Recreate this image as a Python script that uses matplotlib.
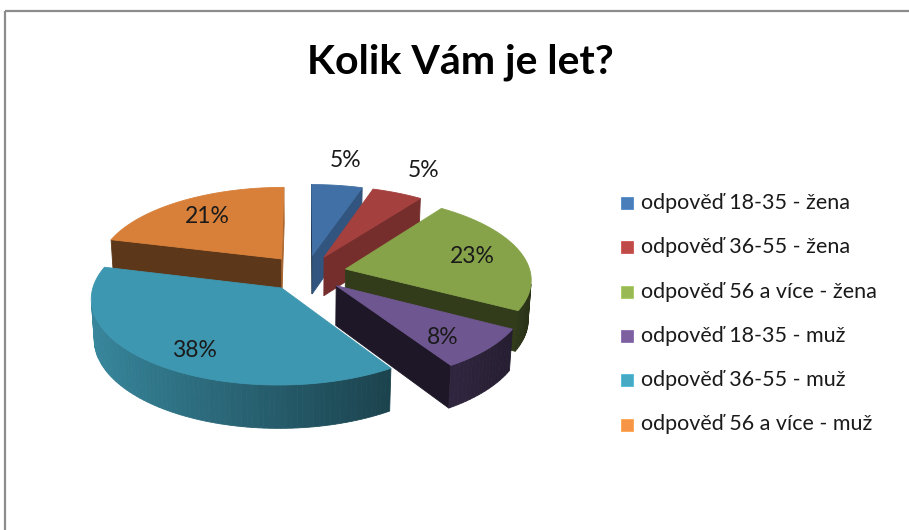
import numpy as np
import matplotlib
matplotlib.use('Agg')
import matplotlib.pyplot as plt
from matplotlib.patches import Polygon, Rectangle
from matplotlib.colors import to_rgb

# ---------------- data ----------------
title = 'Kolik Vám je let?'
categories = ['odpověď 18-35 - žena', 'odpověď 36-55 - žena', 'odpověď 56 a více - žena',
              'odpověď 18-35 - muž', 'odpověď 36-55 - muž', 'odpověď 56 a více - muž']
values = [5, 5, 23, 8, 38, 21]
value_labels = ['5%', '5%', '23%', '8%', '38%', '21%']
top_colors = ['#4170A6', '#A4403E', '#86A34A', '#6E5690', '#3E97B0', '#D8803A']
legend_colors = ['#4A7EBB', '#BE4B48', '#98B954', '#7D60A0', '#46AAC5', '#F69546']

# ---------------- style / geometry ----------------
plt.rcParams['font.family'] = ['Lato', 'DejaVu Sans']
W, H = 909, 530
fig = plt.figure(figsize=(W / 100, H / 100), dpi=100)
ax = fig.add_axes([0, 0, 1, 1])
ax.set_xlim(0, W)
ax.set_ylim(H, 0)
ax.axis('off')

cx, cy = 306, 273          # screen position of pie centre
S = 185                    # px per unit radius
el = np.radians(26.5)      # elevation
L = 8.0                    # camera distance (perspective)
h = 0.24                   # thickness
explode = 0.22
sin_e, cos_e = np.sin(el), np.cos(el)
cam = np.array([0.0, -L * cos_e, L * sin_e])


def proj(x, y, z):
    x = np.asarray(x, float); y = np.asarray(y, float); z = np.asarray(z, float)
    depth = L + y * cos_e - z * sin_e
    sx = cx + S * L * x / depth
    sy = cy - S * L * (y * sin_e + z * cos_e) / depth
    return sx, sy


def shade(color, f):
    r, g, b = to_rgb(color)
    return (min(r * f, 1), min(g * f, 1), min(b * f, 1))


def visible(normal, point):
    return np.dot(normal, cam - point) > 0


def poly(xs, ys, color, z):
    ax.add_patch(Polygon(np.column_stack([xs, ys]), closed=True, facecolor=color,
                         edgecolor=color, lw=0.6, zorder=z))


total = float(sum(values))
angles = 90 - 360 * np.concatenate([[0], np.cumsum(values)]) / total   # clockwise from top

slices = []
for i, v in enumerate(values):
    a0, a1 = np.radians(angles[i]), np.radians(angles[i + 1])   # a0 > a1
    mid = 0.5 * (a0 + a1)
    ox, oy = explode * np.cos(mid), explode * np.sin(mid)
    depth_key = oy + 0.5 * np.sin(mid)
    slices.append((depth_key, i, a0, a1, mid, ox, oy))

slices.sort(key=lambda s: -s[0])  # far first

for order, (_, i, a0, a1, mid, ox, oy) in enumerate(slices):
    col = top_colors[i]
    zb = 2 + order * 3
    th = np.linspace(a0, a1, max(int(abs(a0 - a1) / np.radians(1.5)), 4))
    ex, ey = ox + np.cos(th), oy + np.sin(th)
    # radial walls
    for a, sgn in ((a0, 1), (a1, -1)):
        nrm = np.array([np.cos(a + sgn * np.pi / 2), np.sin(a + sgn * np.pi / 2), 0.0])
        pt = np.array([ox + 0.5 * np.cos(a), oy + 0.5 * np.sin(a), -h / 2])
        if visible(nrm, pt):
            na = np.arctan2(nrm[1], nrm[0])
            f = 0.5 + 0.27 * np.cos(na)
            X = [ox, ox + np.cos(a), ox + np.cos(a), ox]
            Y = [oy, oy + np.sin(a), oy + np.sin(a), oy]
            Z = [0, 0, -h, -h]
            sx, sy = proj(X, Y, Z)
            poly(sx, sy, shade(col, f), zb)
    # outer curved wall, segment by segment
    for k in range(len(th) - 1):
        tm = 0.5 * (th[k] + th[k + 1])
        nrm = np.array([np.cos(tm), np.sin(tm), 0.0])
        pt = np.array([ox + np.cos(tm), oy + np.sin(tm), -h / 2])
        if visible(nrm, pt):
            f = 0.6 - 0.3 * np.cos(tm)
            X = [ex[k], ex[k + 1], ex[k + 1], ex[k]]
            Y = [ey[k], ey[k + 1], ey[k + 1], ey[k]]
            Z = [0, 0, -h, -h]
            sx, sy = proj(X, Y, Z)
            poly(sx, sy, shade(col, f), zb + 1)
    # top face
    X = np.concatenate([[ox], ex])
    Y = np.concatenate([[oy], ey])
    sx, sy = proj(X, Y, np.zeros_like(X))
    poly(sx, sy, col, zb + 2)

    # data label
    frac = values[i] / total
    if frac > 0.06:
        lx, ly = proj(ox + 0.72 * np.cos(mid), oy + 0.72 * np.sin(mid),
                      -0.25 * np.clip(-np.sin(mid), 0, 1) * h)
    else:
        lx, ly = proj(ox + 1.4 * np.cos(mid), oy + 1.4 * np.sin(mid), 0.0)
    ax.text(lx, ly, value_labels[i], ha='center', va='center', fontsize=16.5,
            color='#1a1a1a', zorder=50)

# title
ax.text(460, 62, title, ha='center', va='center', fontsize=29.5, fontweight='bold',
        color='black', zorder=50)

# legend
ly0, ldy = 203, 44.3
for i, name in enumerate(categories):
    y = ly0 + i * ldy
    ax.add_patch(Rectangle((621, y - 6), 12, 12, facecolor=legend_colors[i],
                           edgecolor=shade(legend_colors[i], 1.1), lw=0.6, zorder=50))
    ax.text(641, y, name, ha='left', va='center', fontsize=15.5, color='#1a1a1a', zorder=50)

# chart frame
ax.plot([5, 5], [H, 11], color='#8C8C8C', lw=1.6, solid_capstyle='butt', zorder=60)
ax.plot([5, W], [11, 11], color='#8C8C8C', lw=1.6, solid_capstyle='butt', zorder=60)

fig.savefig('out.png', dpi=100)
